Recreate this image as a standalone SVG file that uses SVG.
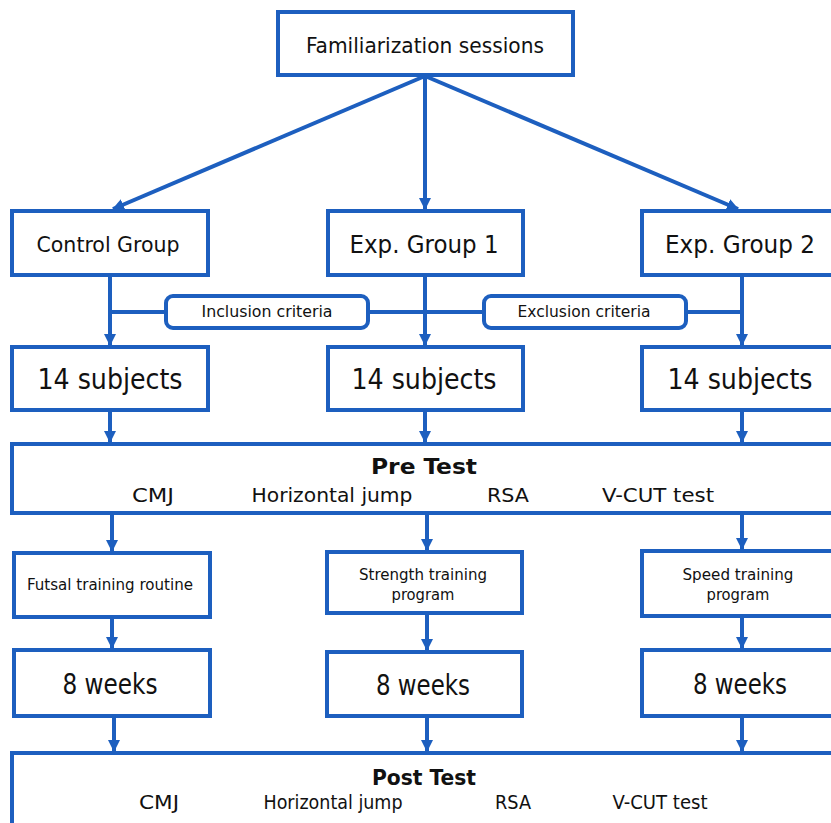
<svg xmlns="http://www.w3.org/2000/svg" width="831" height="823" viewBox="0 0 831 823">
<style>
.box{fill:#fff;stroke:#1d5fbf;stroke-width:4}
.ln{stroke:#1d5fbf;stroke-width:4;fill:none}
.ar{marker-end:url(#ah)}
text{font-family:"DejaVu Sans Condensed","DejaVu Sans","Liberation Sans",sans-serif;fill:#111;text-anchor:middle}
.b{font-weight:bold}
</style>
<defs>
<marker id="ah" markerUnits="userSpaceOnUse" markerWidth="12" markerHeight="12" refX="11" refY="6" orient="auto">
<path d="M0,0 L12,6 L0,12 z" fill="#1d5fbf"/>
</marker>
</defs>
<rect width="831" height="823" fill="#fff"/>
<g id="connectors">
<line class="ln ar" x1="425" y1="76" x2="113" y2="209"/>
<line class="ln ar" x1="425" y1="76" x2="425" y2="209"/>
<line class="ln ar" x1="425" y1="76" x2="738" y2="209"/>
<line class="ln ar" x1="110" y1="276" x2="110" y2="345"/>
<line class="ln ar" x1="425" y1="276" x2="425" y2="345"/>
<line class="ln ar" x1="742" y1="276" x2="742" y2="345"/>
<line class="ln" x1="110" y1="312" x2="166" y2="312"/>
<line class="ln" x1="368" y1="312" x2="484" y2="312"/>
<line class="ln" x1="686" y1="312" x2="742" y2="312"/>
<line class="ln ar" x1="110" y1="411" x2="110" y2="442"/>
<line class="ln ar" x1="425" y1="411" x2="425" y2="442"/>
<line class="ln ar" x1="742" y1="411" x2="742" y2="442"/>
<line class="ln ar" x1="112" y1="514" x2="112" y2="551"/>
<line class="ln ar" x1="427" y1="514" x2="427" y2="550"/>
<line class="ln ar" x1="742" y1="514" x2="742" y2="549"/>
<line class="ln ar" x1="112" y1="618" x2="112" y2="648"/>
<line class="ln ar" x1="427" y1="614" x2="427" y2="650"/>
<line class="ln ar" x1="742" y1="617" x2="742" y2="648"/>
<line class="ln ar" x1="114" y1="717" x2="114" y2="751"/>
<line class="ln ar" x1="427" y1="717" x2="427" y2="751"/>
<line class="ln ar" x1="742" y1="717" x2="742" y2="751"/>
</g>
<g id="familiarization">
<rect class="box" x="278" y="12" width="295" height="63"/>
<text x="425" y="53" font-size="21" textLength="238" lengthAdjust="spacingAndGlyphs">Familiarization sessions</text>
</g>
<g id="control-group">
<rect class="box" x="12" y="211" width="196" height="64"/>
<text x="108" y="252" font-size="22" textLength="143" lengthAdjust="spacingAndGlyphs">Control Group</text>
</g>
<g id="exp-group-1">
<rect class="box" x="328" y="211" width="195" height="64"/>
<text x="424" y="253" font-size="24" textLength="149" lengthAdjust="spacingAndGlyphs">Exp. Group 1</text>
</g>
<g id="exp-group-2">
<rect class="box" x="642" y="211" width="200" height="64"/>
<text x="740" y="253" font-size="24" textLength="150" lengthAdjust="spacingAndGlyphs">Exp. Group 2</text>
</g>
<g id="inclusion">
<rect class="box" x="166" y="296" width="202" height="32" rx="7"/>
<text x="267" y="317" font-size="15" textLength="131" lengthAdjust="spacingAndGlyphs">Inclusion criteria</text>
</g>
<g id="exclusion">
<rect class="box" x="484" y="296" width="202" height="32" rx="7"/>
<text x="584" y="317" font-size="15" textLength="133" lengthAdjust="spacingAndGlyphs">Exclusion criteria</text>
</g>
<g id="subjects-control">
<rect class="box" x="12" y="347" width="196" height="63"/>
<text x="110" y="389" font-size="28" textLength="145" lengthAdjust="spacingAndGlyphs">14 subjects</text>
</g>
<g id="subjects-exp1">
<rect class="box" x="328" y="347" width="195" height="63"/>
<text x="424" y="389" font-size="28" textLength="145" lengthAdjust="spacingAndGlyphs">14 subjects</text>
</g>
<g id="subjects-exp2">
<rect class="box" x="642" y="347" width="200" height="63"/>
<text x="740" y="389" font-size="28" textLength="145" lengthAdjust="spacingAndGlyphs">14 subjects</text>
</g>
<g id="pre-test">
<rect class="box" x="12" y="444" width="830" height="69"/>
<text class="b" x="424" y="474" font-size="22" textLength="106" lengthAdjust="spacingAndGlyphs">Pre Test</text>
<text x="153" y="502" font-size="20" textLength="42" lengthAdjust="spacingAndGlyphs">CMJ</text>
<text x="332" y="502" font-size="20" textLength="161" lengthAdjust="spacingAndGlyphs">Horizontal jump</text>
<text x="508" y="502" font-size="20" textLength="42" lengthAdjust="spacingAndGlyphs">RSA</text>
<text x="658" y="502" font-size="20" textLength="112" lengthAdjust="spacingAndGlyphs">V-CUT test</text>
</g>
<g id="futsal">
<rect class="box" x="14" y="553" width="196" height="64"/>
<text x="110" y="590" font-size="15" textLength="166" lengthAdjust="spacingAndGlyphs">Futsal training routine</text>
</g>
<g id="strength">
<rect class="box" x="327" y="552" width="195" height="61"/>
<text x="423" y="580" font-size="15" textLength="128" lengthAdjust="spacingAndGlyphs">Strength training</text>
<text x="423" y="600" font-size="15" textLength="63" lengthAdjust="spacingAndGlyphs">program</text>
</g>
<g id="speed">
<rect class="box" x="642" y="551" width="200" height="65"/>
<text x="738" y="580" font-size="15" textLength="111" lengthAdjust="spacingAndGlyphs">Speed training</text>
<text x="738" y="600" font-size="15" textLength="63" lengthAdjust="spacingAndGlyphs">program</text>
</g>
<g id="weeks-control">
<rect class="box" x="14" y="650" width="196" height="66"/>
<text x="110" y="694" font-size="28" textLength="95" lengthAdjust="spacingAndGlyphs">8 weeks</text>
</g>
<g id="weeks-exp1">
<rect class="box" x="327" y="652" width="195" height="64"/>
<text x="423" y="695" font-size="28" textLength="94" lengthAdjust="spacingAndGlyphs">8 weeks</text>
</g>
<g id="weeks-exp2">
<rect class="box" x="642" y="650" width="200" height="66"/>
<text x="740" y="694" font-size="28" textLength="94" lengthAdjust="spacingAndGlyphs">8 weeks</text>
</g>
<g id="post-test">
<rect class="box" x="12" y="753" width="830" height="80"/>
<text class="b" x="424" y="785" font-size="22" textLength="104" lengthAdjust="spacingAndGlyphs">Post Test</text>
<text x="159" y="809" font-size="19" textLength="40" lengthAdjust="spacingAndGlyphs">CMJ</text>
<text x="333" y="809" font-size="19" textLength="139" lengthAdjust="spacingAndGlyphs">Horizontal jump</text>
<text x="513" y="809" font-size="19" textLength="36" lengthAdjust="spacingAndGlyphs">RSA</text>
<text x="660" y="809" font-size="19" textLength="95" lengthAdjust="spacingAndGlyphs">V-CUT test</text>
</g>
</svg>
